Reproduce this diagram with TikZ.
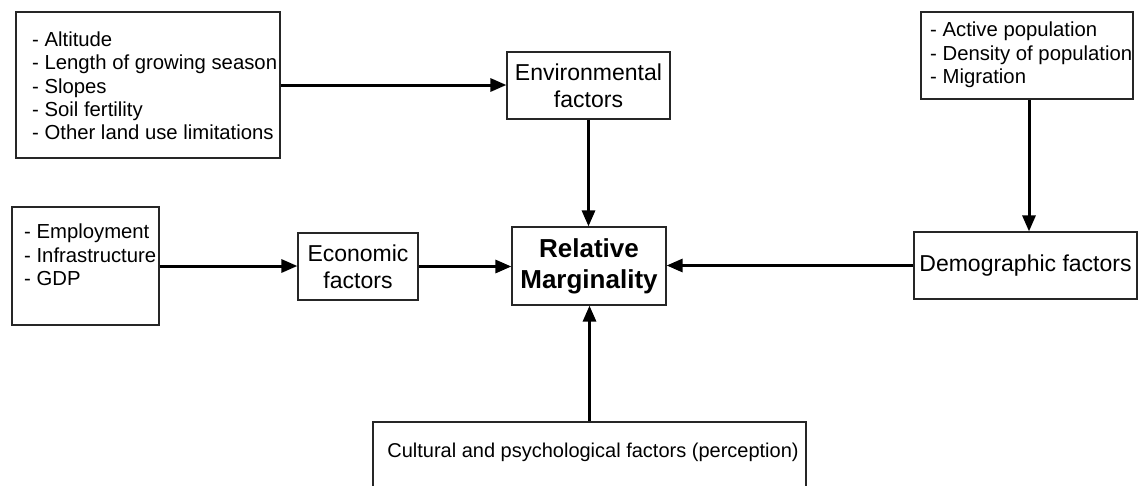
\documentclass[tikz,border=0pt]{standalone}
\usepackage{fontspec}
\setmainfont{Liberation Sans}
\usetikzlibrary{arrows.meta}
\tikzset{
  box/.style={draw=black!85, line width=1.2pt, inner sep=0pt, align=center},
  lbl/.style={font=\fontsize{23}{27}\selectfont},
  lst/.style={inner sep=0pt, align=left, anchor=west, font=\fontsize{20.3}{23.3}\selectfont},
  arr/.style={line width=3pt, -{Triangle[length=16pt,width=13pt]}}
}
\begin{document}
\begin{tikzpicture}[x=1pt,y=-1pt]
\useasboundingbox[fill=white] (0,0) rectangle (1138,485);
% boxes
\node[box, minimum width=264pt, minimum height=146pt] (envlist) at (148,85) {};
\node[lst] (envlisttext) at (32,86) {- Altitude\\- Length of growing season\\- Slopes\\- Soil fertility\\- Other land use limitations};
\node[box, lbl, minimum width=163pt, minimum height=67pt] (envf) at (588.5,85.5) {Environmental\\factors};
\node[box, minimum width=212pt, minimum height=87pt] (demlist) at (1027,55.5) {};
\node[lst] (demlisttext) at (930,55) {- Active population\\- Density of population\\- Migration};
\node[box, lbl, minimum width=223pt, minimum height=67pt] (demf) at (1025.5,265.5) {Demographic factors};
\node[box, minimum width=147pt, minimum height=118pt] (econlist) at (85.5,266) {};
\node[lst] (econlisttext) at (24,255) {- Employment\\- Infrastructure\\- GDP};
\node[box, lbl, minimum width=120pt, minimum height=67pt] (econf) at (358,266.5) {Economic\\factors};
\node[box, minimum width=154pt, minimum height=78pt, font=\fontsize{26}{31}\selectfont\bfseries] (rm) at (589,266) {Relative\\Marginality};
\node[box, minimum width=433pt, minimum height=68pt] (cult) at (589.5,456) {};
\node[inner sep=0pt, font=\fontsize{20}{24}\selectfont] (culttext) at (593,452) {Cultural and psychological factors (perception)};
% connectors
\draw[arr] (envlist.east) -- (envlist.east -| envf.west);
\draw[arr] (envf.south) -- (envf.south |- rm.north);
\draw[arr] ([xshift=2pt]demlist.south) -- ([xshift=3.5pt]demf.north);
\draw[arr] (demf.west) -- (demf.west -| rm.east);
\draw[arr] (econlist.east) -- (econlist.east -| econf.west);
\draw[arr] (econf.east) -- (econf.east -| rm.west);
\draw[arr] (cult.north) -- (cult.north |- rm.south);
\end{tikzpicture}
\end{document}
